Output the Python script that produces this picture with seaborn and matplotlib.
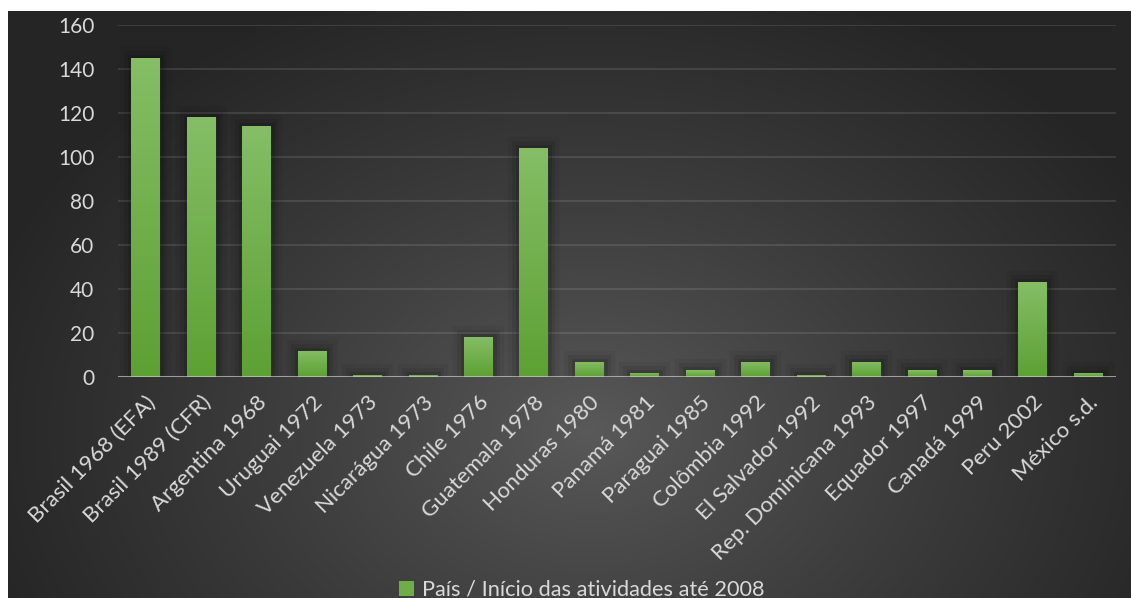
import numpy as np
import pandas as pd
import matplotlib
matplotlib.use("Agg")
import matplotlib.pyplot as plt
import matplotlib.patheffects as pe
from matplotlib.patches import Rectangle
import seaborn as sns

categories = ["Brasil 1968 (EFA)", "Brasil 1989 (CFR)", "Argentina 1968", "Uruguai 1972",
              "Venezuela 1973", "Nicarágua 1973", "Chile 1976", "Guatemala 1978",
              "Honduras 1980", "Panamá 1981", "Paraguai 1985", "Colômbia 1992",
              "El Salvador 1992", "Rep. Dominicana 1993", "Equador 1997", "Canadá 1999",
              "Peru 2002", "México s.d."]
values = [145, 118, 114, 12, 1, 1, 18, 104, 7, 2, 3, 7, 1, 7, 3, 3, 43, 2]
series_name = "País / Início das atividades até 2008"
yticks = [0, 20, 40, 60, 80, 100, 120, 140, 160]

df = pd.DataFrame({"cat": categories, "val": values})

sns.set_theme(style="dark")
plt.rcParams["font.family"] = ["Lato", "DejaVu Sans"]

W, H = 1131, 598
fig = plt.figure(figsize=(W / 100, H / 100), dpi=100, facecolor="white")

# background with radial gradient
bg = fig.add_axes([8 / W, 0, 1 - 8 / W, 1 - 11 / H], zorder=-10)
bw, bh = W - 8, H - 11
yy, xx = np.mgrid[0:bh, 0:bw]
cx, cy = 590 - 8, 430 - 11
r = np.sqrt(((xx - cx) / 640.0) ** 2 + ((yy - cy) / 480.0) ** 2)
r = np.clip(r, 0, 1)
c0, c1 = 0x5a / 255, 0x25 / 255
g = c0 + (c1 - c0) * r ** 0.85
img = np.dstack([g, g, g])
bg.imshow(img, aspect="auto", extent=[0, 1, 0, 1], origin="upper")
bg.set_axis_off()

ax = fig.add_axes([118 / W, 1 - 377 / H, (1116 - 118) / W, (377 - 25) / H])
ax.set_facecolor("none")

sns.barplot(data=df, x="cat", y="val", ax=ax, color="#6eae49", width=0.52,
            saturation=1, label=series_name, zorder=3, edgecolor="none", linewidth=0)

ax.set_ylim(0, 160)
ax.set_xlim(-0.5, len(categories) - 0.5)
ax.set_yticks(yticks)
ax.grid(axis="y", color="#d9d9d9", alpha=0.13, linewidth=1.5, zorder=0)
ax.grid(axis="x", visible=False)
for s in ax.spines.values():
    s.set_visible(False)
ax.axhline(0, color="#d9d9d9", alpha=0.6, linewidth=2.2, zorder=6)

ax.set_xlabel("")
ax.set_ylabel("")
ax.tick_params(axis="y", colors="#d9d9d9", labelsize=15, pad=17, length=0)
ax.tick_params(axis="x", colors="#d9d9d9", labelsize=16, pad=11, length=0)
plt.setp(ax.get_xticklabels(), rotation=45, ha="right", rotation_mode="anchor")

# gradient fill + soft shadow on bars
grad = np.linspace(0, 1, 256).reshape(-1, 1)
top = np.array([0x85, 0xbe, 0x66]) / 255
bot = np.array([0x5d, 0xa0, 0x33]) / 255
gimg = (top[None, None, :] * (1 - grad[..., None]) + bot[None, None, :] * grad[..., None])
for p in ax.patches:
    p.set_edgecolor("none")
    p.set_linewidth(0)
    p.set_path_effects([
        pe.Stroke(linewidth=16, foreground="black", alpha=0.05),
        pe.Stroke(linewidth=10, foreground="black", alpha=0.08),
        pe.Stroke(linewidth=5, foreground="black", alpha=0.12),
        pe.Normal(),
    ])
    x0, y0 = p.get_x(), p.get_y()
    w, h = p.get_width(), p.get_height()
    im = ax.imshow(gimg, extent=[x0, x0 + w, y0, y0 + h], aspect="auto",
                   origin="upper", zorder=4)
    im.set_clip_path(p)
ax.set_xlim(-0.5, len(categories) - 0.5)
ax.set_ylim(0, 160)

# legend
handles = [Rectangle((0, 0), 1, 1, facecolor="#6eae49", edgecolor="none")]
leg = fig.legend(handles, [series_name], loc="center", bbox_to_anchor=(0.514, 1 - 590 / H),
                 frameon=False, fontsize=15.7, labelcolor="#d9d9d9",
                 handlelength=0.7, handleheight=0.7, handletextpad=0.35)
if ax.get_legend() is not None:
    ax.get_legend().remove()

fig.savefig("out.png", dpi=100, facecolor="white")
